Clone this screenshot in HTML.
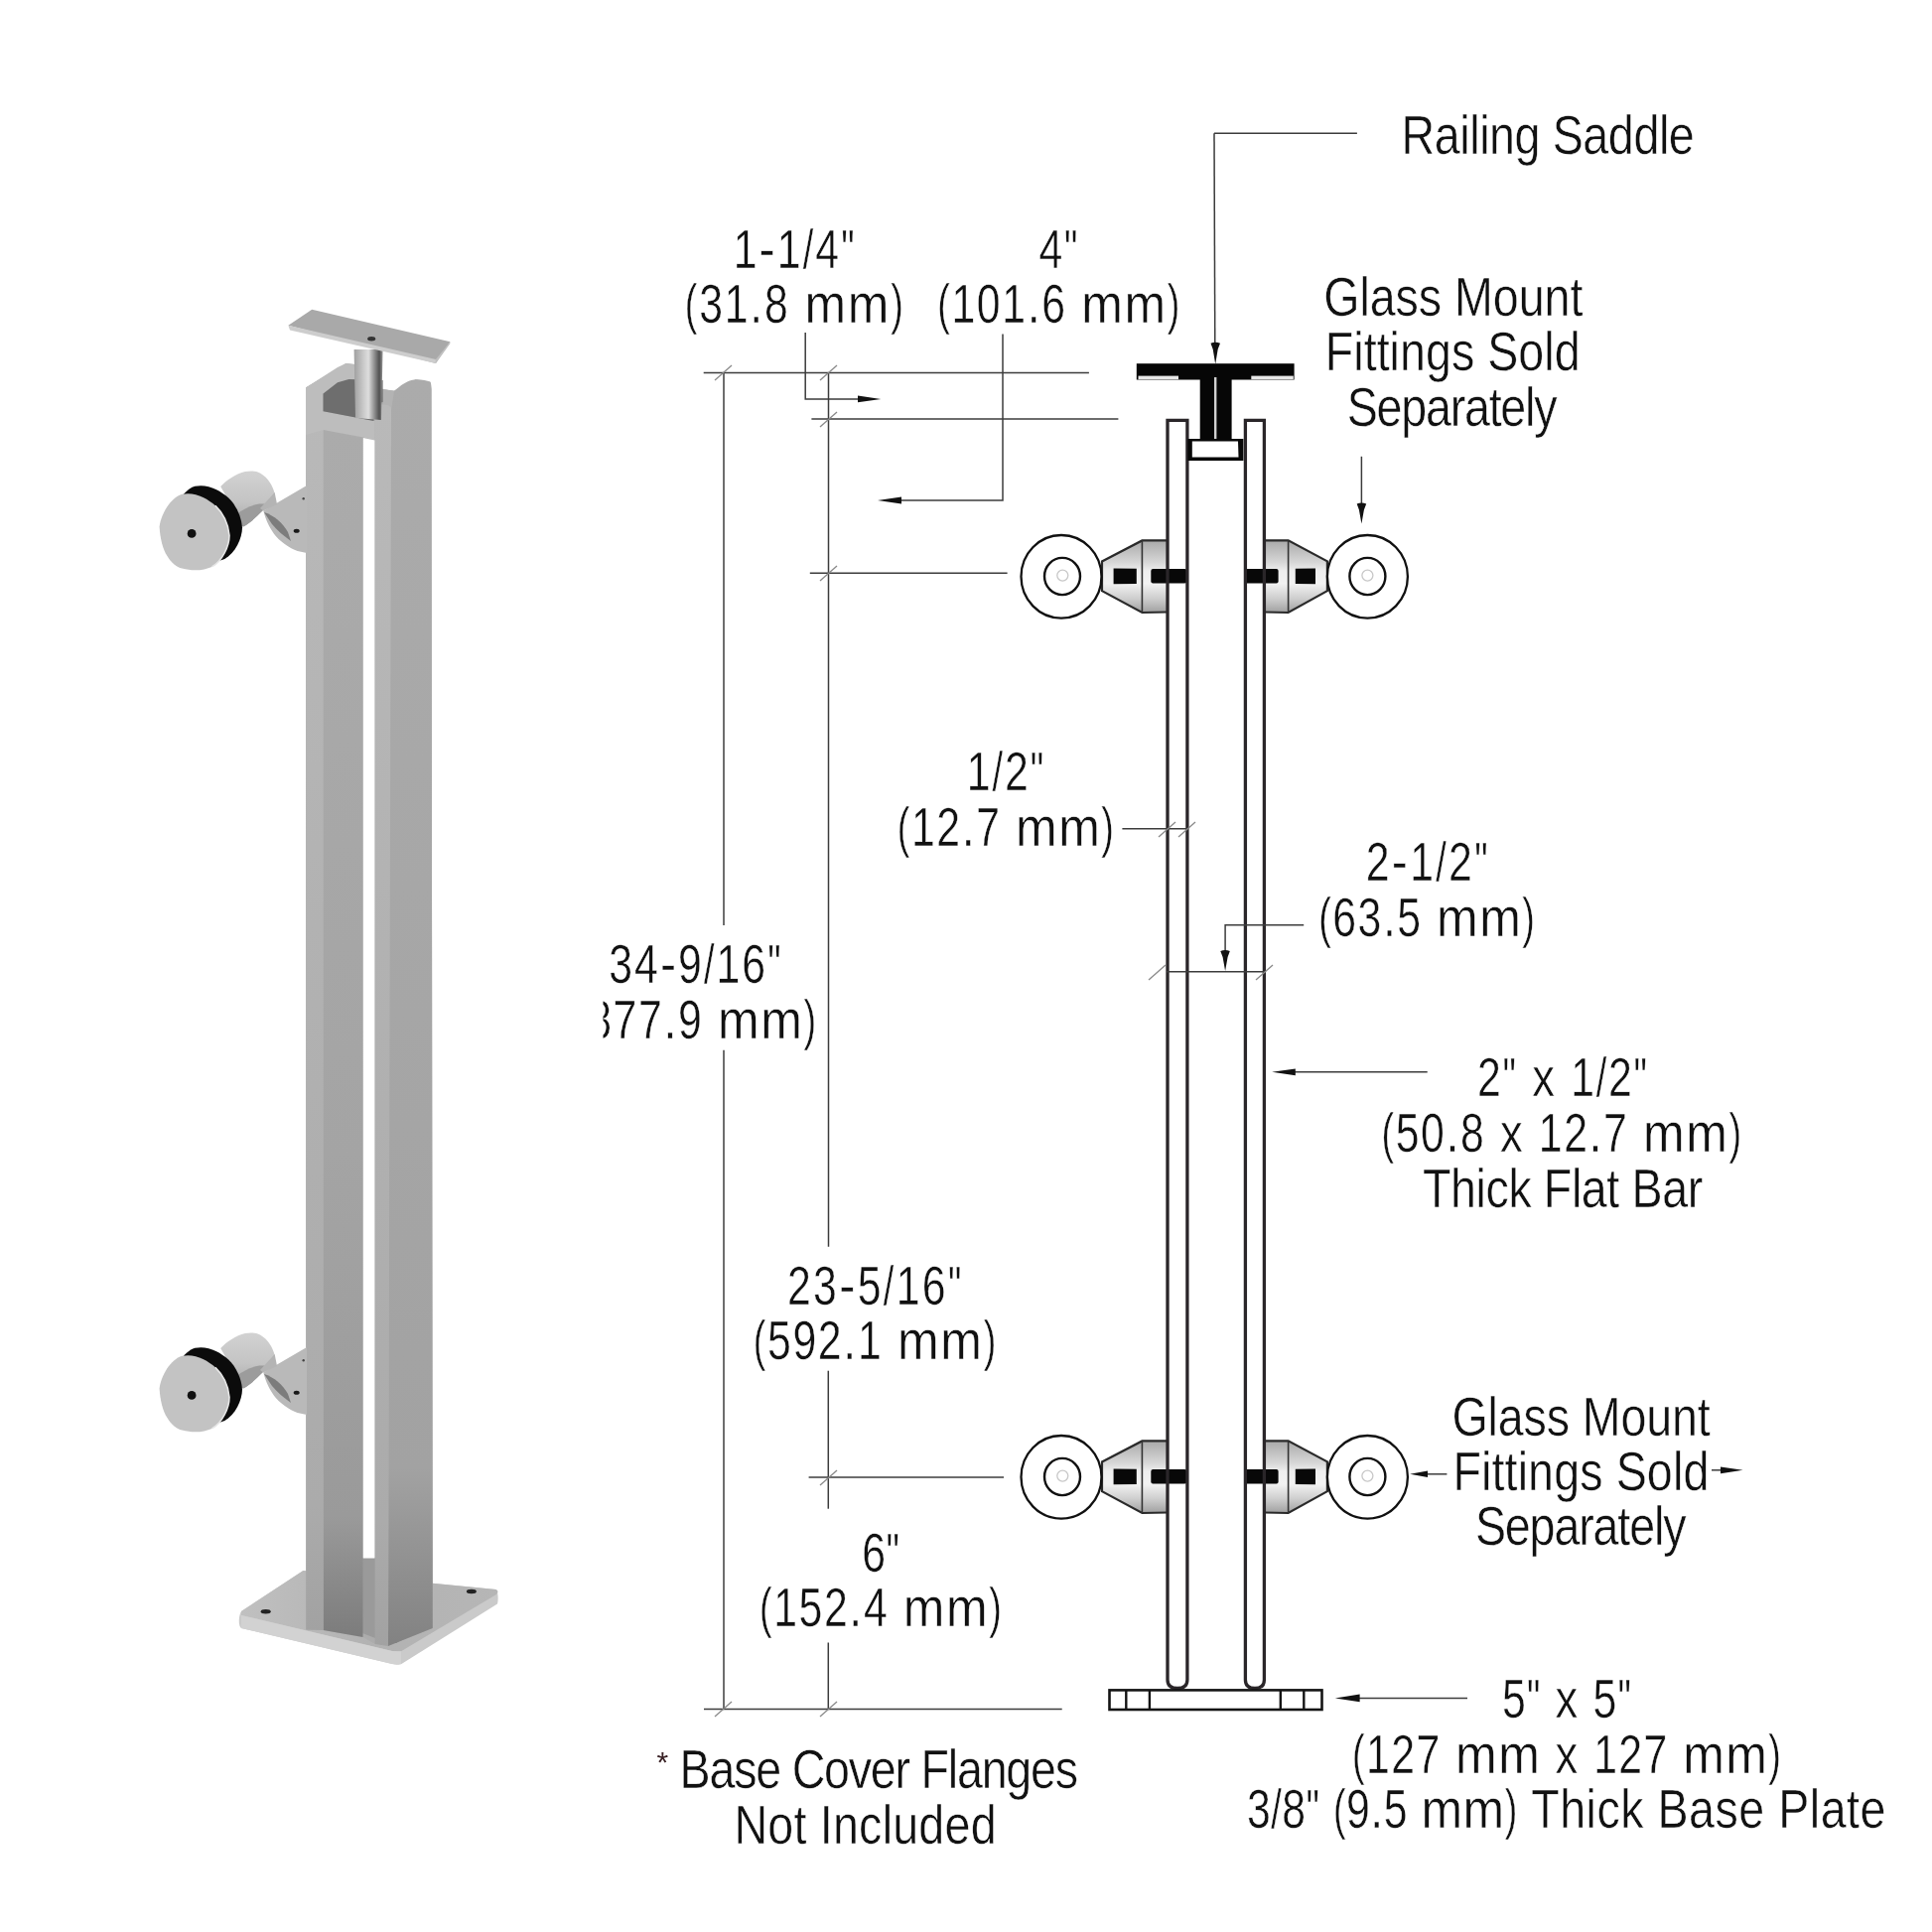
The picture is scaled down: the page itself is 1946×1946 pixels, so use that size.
<!DOCTYPE html>
<html><head><meta charset="utf-8"><style>
html,body{margin:0;padding:0;background:#fff;width:1946px;height:1946px;overflow:hidden}
svg{display:block}
</style></head><body>
<svg width="1946" height="1946" viewBox="0 0 1946 1946">
<rect width="1946" height="1946" fill="#fff"/>
<defs>
<linearGradient id="rf" x1="0" y1="0" x2="0" y2="1">
<stop offset="0" stop-color="#ababab"/><stop offset="0.5" stop-color="#a6a6a6"/><stop offset="0.86" stop-color="#a2a2a2"/><stop offset="1" stop-color="#828282"/>
</linearGradient>
<linearGradient id="mf" x1="0" y1="0" x2="0" y2="1">
<stop offset="0" stop-color="#ababab"/><stop offset="0.6" stop-color="#a4a4a4"/><stop offset="0.9" stop-color="#9a9a9a"/><stop offset="1" stop-color="#7c7c7c"/>
</linearGradient>
<linearGradient id="ls" x1="0" y1="0" x2="0" y2="1">
<stop offset="0" stop-color="#b9b9b9"/><stop offset="0.5" stop-color="#b1b1b1"/><stop offset="0.9" stop-color="#ababab"/><stop offset="1" stop-color="#a2a2a2"/>
</linearGradient>
<linearGradient id="sp" x1="0" y1="0" x2="1" y2="0">
<stop offset="0" stop-color="#a0a0a0"/><stop offset="0.3" stop-color="#c6c6c6"/><stop offset="0.5" stop-color="#dedede"/><stop offset="0.72" stop-color="#8a8a8a"/><stop offset="0.88" stop-color="#505050"/><stop offset="1" stop-color="#9a9a9a"/>
</linearGradient>
<linearGradient id="pl" x1="0" y1="0" x2="1" y2="0">
<stop offset="0" stop-color="#c0c0c0"/><stop offset="0.5" stop-color="#b2b2b2"/><stop offset="1" stop-color="#b6b6b6"/>
</linearGradient>
<linearGradient id="cy" x1="0" y1="0" x2="0" y2="1">
<stop offset="0" stop-color="#d2d2d2"/><stop offset="0.55" stop-color="#c4c4c4"/><stop offset="1" stop-color="#a8a8a8"/>
</linearGradient>
<g id="fitP">
<!-- bracket -->
<path d="M265.3,514.6 L309,489 L309,557 L299.6,555 C292,552 281,545 275.8,537.4 C271,531 268,524 265.3,514.6 Z" fill="#b9b9b9"/>
<path d="M266,516 C276,519 285,527 290,536 L293,545 C286,540 279,534 274,528 Z" fill="#7c7c7c"/>
<ellipse cx="298.7" cy="534.8" rx="3" ry="2" fill="#1a1a1a"/>
<circle cx="305.7" cy="502.2" r="1.2" fill="#444"/>
<!-- cylinder -->
<path d="M222.2,489.9 C228,484 238,477 246.8,475 C252,474 258,474 262,476.5 C270,481 275,490 276.7,497 C273,506 268,511 264.4,514.6 C259,520 252,527 245,530.4 Z" fill="url(#cy)"/>
<path d="M238,518 C248,511 258,506 268,508 L264.4,514.6 C259,520 252,527 245,530.4 L238,528 Z" fill="#9c9c9c"/>
<path d="M276.7,496 L279,508 L265.3,514.6 L262,512 Z" fill="#b4b4b4"/>
<!-- gasket -->
<path transform="translate(13 -8)" d="M160.6,530.4 C162,518 172,501 183.4,497.8 C196,495 209,502 216.9,509.3 C225,517 230,528 231,539.2 C231,550 224,565 213.4,570.9 C206,574 196,576 183.4,572.6 C172,569 162,556 160.6,530.4 Z" fill="#0b0b0b"/>
<!-- disc -->
<path d="M160.6,530.4 C162,518 172,501 183.4,497.8 C196,495 209,502 216.9,509.3 C225,517 230,528 231,539.2 C231,550 224,565 213.4,570.9 C206,574 196,576 183.4,572.6 C172,569 162,556 160.6,530.4 Z" fill="#c3c3c3"/>
<path d="M216.9,509.3 C225,517 230,528 231,539.2 C231,550 224,565 213.4,570.9" fill="none" stroke="#e6e6e6" stroke-width="1.6"/>
<circle cx="193.1" cy="537.4" r="4.4" fill="#111"/>
</g>
</defs>
<!-- base plate -->
<path d="M243,1623 L305.4,1582 L499.6,1600.9 C502,1603 502,1612 501,1615.4 L404,1676.2 C400,1677 398,1677 395,1676 L243,1640 C240,1638 240,1628 243,1623 Z" fill="#cacaca"/>
<path d="M243,1623 L305.4,1582 L499.6,1600.9 C502,1602 502,1604 500,1606 L404,1663.2 C400,1664 398,1664 395,1663 L243,1627 Z" fill="url(#pl)"/>
<path d="M243,1627 L395,1663 L404,1663.2 L404,1676 L395,1676 L243,1640 Z" fill="#d2d2d2"/>
<ellipse cx="267.7" cy="1623.3" rx="5" ry="2.2" fill="#222"/>
<ellipse cx="474.9" cy="1603" rx="5" ry="2.2" fill="#222"/>
<ellipse cx="396.7" cy="1652.3" rx="5" ry="2.4" fill="#333"/>
<!-- post body -->
<path d="M308,390.4 L348.5,366 L357,367 L385.6,392 L397,393.8 L418.6,382.2 L433.4,384.7 L434.5,392 L435.8,1639 L393,1654 L377.8,1656 L365.5,1649 L325.6,1642 L308.3,1641.4 Z" fill="#acacac"/>
<path d="M365,1569 L378,1569 L378,1650 L365,1645 Z" fill="#9a9a9a"/>
<path d="M393,393.8 L397,393.8 C404,388 410,383 418.6,382.2 C424,382 430,383 433.4,384.7 C434.5,386 434.5,390 434.5,392 L435.8,1640 L391,1658 Z" fill="url(#rf)"/>
<path d="M385.6,392.1 L397,393.8 L393,420 L385.6,420 Z" fill="#b3b3b3"/>
<path d="M377.6,1656 L377.6,410 C377.6,408 379,407 381,407 L390,408 C392,408.5 394,410 394,412 L391,1658 Z" fill="url(#ls)"/>
<path d="M325.6,433 L365.5,442 L365.5,1649 L325.6,1642 Z" fill="url(#mf)"/>
<path d="M308,390.4 L325.6,380 L325.6,1642 L308.3,1641.4 Z" fill="url(#ls)"/>
<!-- top frame -->
<path d="M308,390.4 L340,370 L348.5,366 L357,367 L357,383 L325.5,396.6 L325.5,414.2 L376.4,424 L377.6,424 L377.6,444 L366,440.5 L325.6,433 L308,438 Z" fill="#bdbdbd"/>
<path d="M325.5,396.6 L340,385.3 L351.4,381.9 L385.6,383 L385.6,405 L377.6,407 L376.4,424 L325.5,414.2 Z" fill="#6e6e6e"/>
<path d="M365.8,441 L377.4,443.5 L377.4,1569.6 L365.8,1569.6 Z" fill="#fff"/>
<!-- spindle -->
<path d="M356.6,352 L385.6,352 L384,423 L358,421 Z" fill="url(#sp)"/>
<!-- saddle -->
<path d="M290.4,327.8 L314.2,311.7 L453.4,344.3 L438.9,366.1 Z" fill="#a9a9a9"/>
<path d="M290.4,327.8 L438.9,362 L438.9,366.1 L292,332.4 Z" fill="#cdcdcd"/>
<path d="M438.9,362 L453.4,344.3 L453.4,346 L439,366 Z" fill="#c0c0c0"/>
<ellipse cx="374.2" cy="341.2" rx="4" ry="2.2" fill="#333"/>
<use href="#fitP"/>
<use href="#fitP" transform="translate(0 868)"/>

<defs>
<linearGradient id="cg" x1="0" y1="0" x2="0" y2="1">
<stop offset="0" stop-color="#a9a9a9"/><stop offset="0.3" stop-color="#d6d6d6"/><stop offset="0.42" stop-color="#eeeeee"/><stop offset="0.6" stop-color="#f2f2f2"/><stop offset="0.8" stop-color="#cfcfcf"/><stop offset="1" stop-color="#a0a0a0"/>
</linearGradient>
<g id="fitL">
<path d="M1110,565.4 L1150.4,544.4 L1176,544.4 L1176,616.5 L1150.4,617 L1110,595.2 Z" fill="url(#cg)"/>
<path d="M1176,544.4 L1150.4,544.4 L1110,565.4 L1110,595.2 L1150.4,617 L1176,616.5" fill="none" stroke="#2a2a2a" stroke-width="2.2"/>
<line x1="1150.4" y1="544.4" x2="1150.4" y2="617" stroke="#333" stroke-width="1.6"/>
<path d="M1121.6,572.4 L1144.8,572.8 L1144.8,588 L1121.6,588.2 Z" fill="#080808"/>
<rect x="1159.3" y="572.9" width="36" height="14.6" rx="2" fill="#080808"/>
<ellipse cx="1069" cy="580.8" rx="40.5" ry="41.8" fill="#fff" stroke="#111" stroke-width="2.3"/>
<ellipse cx="1070" cy="580.5" rx="18" ry="18.6" fill="#fff" stroke="#111" stroke-width="2.4"/>
<circle cx="1070.3" cy="579.6" r="5.5" fill="none" stroke="#c8c8c8" stroke-width="1.3"/>
</g>
<g id="fitR">
<path d="M1336.9,565.4 L1297.6,544.4 L1273.4,544.4 L1273.4,616.5 L1297.6,617 L1336.9,595.2 Z" fill="url(#cg)"/>
<path d="M1273.4,544.4 L1297.6,544.4 L1336.9,565.4 L1336.9,595.2 L1297.6,617 L1273.4,616.5" fill="none" stroke="#2a2a2a" stroke-width="2.2"/>
<line x1="1297.6" y1="544.4" x2="1297.6" y2="617" stroke="#333" stroke-width="1.6"/>
<path d="M1304.8,572.8 L1325,572.4 L1325,588.2 L1304.8,588 Z" fill="#080808"/>
<rect x="1253.6" y="572.9" width="34" height="14.6" rx="2" fill="#080808"/>
<ellipse cx="1377.4" cy="580.8" rx="40.5" ry="41.8" fill="#fff" stroke="#111" stroke-width="2.3"/>
<ellipse cx="1377.4" cy="580.5" rx="18" ry="18.6" fill="#fff" stroke="#111" stroke-width="2.4"/>
<circle cx="1377.4" cy="579.6" r="5.5" fill="none" stroke="#c8c8c8" stroke-width="1.3"/>
</g>
</defs>
<use href="#fitL"/>
<use href="#fitR"/>
<use href="#fitL" transform="translate(0 907)"/>
<use href="#fitR" transform="translate(0 907)"/>
<g fill="none" stroke-linecap="butt">
<!-- bars -->
<path d="M1176,1692 L1176,423.3 L1195.9,423.3 L1195.9,1692 Q1195.9,1700.5 1186,1700.5 Q1176,1700.5 1176,1692 Z" stroke="#2a2629" stroke-width="3.3"/>
<path d="M1254.4,1692 L1254.4,423.3 L1273.4,423.3 L1273.4,1692 Q1273.4,1700.5 1264,1700.5 Q1254.4,1700.5 1254.4,1692 Z" stroke="#2a2629" stroke-width="3.3"/>
<!-- base plate -->
<rect x="1117.5" y="1702.4" width="214" height="19.6" stroke="#141414" stroke-width="2.6"/>
<line x1="1134.3" y1="1702" x2="1134.3" y2="1722" stroke="#141414" stroke-width="2.4"/>
<line x1="1157.9" y1="1702" x2="1157.9" y2="1722" stroke="#141414" stroke-width="2.4"/>
<line x1="1289.8" y1="1702" x2="1289.8" y2="1722" stroke="#141414" stroke-width="2.4"/>
<line x1="1313.3" y1="1702" x2="1313.3" y2="1722" stroke="#141414" stroke-width="2.4"/>
</g>
<!-- saddle -->
<rect x="1144.8" y="366.2" width="158.8" height="16.3" fill="#060606"/>
<rect x="1146.5" y="378.6" width="40.5" height="3.6" fill="#e8e8e8"/>
<rect x="1260.3" y="378.6" width="42.5" height="3.6" fill="#e8e8e8"/>
<rect x="1208.7" y="382" width="31.9" height="61.5" fill="#060606"/>
<rect x="1223" y="380" width="2.4" height="63" fill="#d0d0d0"/>
<path d="M1196.4,442 L1252.4,442 L1252.4,464 L1196.4,464 Z" fill="#080808"/>
<path d="M1200.8,444.6 L1247,444.6 L1247.5,460.6 L1200.8,460.6 Z" fill="#fff"/>
<!-- fittings -->
<!-- dimension lines -->
<g stroke="#3c3c3c" stroke-width="1.5" fill="none">
<line x1="708.7" y1="375.5" x2="1096.9" y2="375.5"/>
<line x1="729" y1="375.5" x2="729" y2="932"/>
<line x1="729" y1="1057.7" x2="729" y2="1721.5"/>
<line x1="834.5" y1="375.5" x2="834.5" y2="1255.8"/>
<line x1="834.3" y1="1380.7" x2="834.3" y2="1519.7"/>
<line x1="834.3" y1="1654.5" x2="834.3" y2="1721.5"/>
<line x1="709" y1="1721.5" x2="1069.7" y2="1721.5"/>
<path d="M811.2,335 L811.2,401.9 L865,401.9"/>
<line x1="817.4" y1="422" x2="1126.4" y2="422"/>
<path d="M1010,336.6 L1010,504 L905,504"/>
<line x1="815.8" y1="577.3" x2="1014.6" y2="577.3"/>
<line x1="814.6" y1="1488" x2="1011" y2="1488"/>
<path d="M1223,134.2 L1366.9,134.2"/>
<path d="M1223,134.2 L1223.8,352"/>
<line x1="1371.4" y1="459.8" x2="1371.4" y2="515"/>
<line x1="1130.4" y1="834.7" x2="1196" y2="834.7"/>
<line x1="1175" y1="978.8" x2="1274" y2="978.8"/>
<path d="M1313.2,931.7 L1234.1,931.7 L1234.1,965"/>
<line x1="1300" y1="1079.8" x2="1437.7" y2="1079.8"/>
<line x1="1365" y1="1710.4" x2="1478" y2="1710.4"/>
<line x1="1432" y1="1484.8" x2="1457.4" y2="1484.8"/>
<line x1="1724" y1="1480.8" x2="1735" y2="1480.8"/>
</g>
<!-- ticks -->
<g stroke="#8a8a8a" stroke-width="1.3">
<line x1="720" y1="383" x2="737" y2="368"/>
<line x1="826" y1="383" x2="843" y2="368"/>
<line x1="826" y1="430" x2="843" y2="415"/>
<line x1="826" y1="585" x2="843" y2="570"/>
<line x1="826" y1="1496" x2="843" y2="1481"/>
<line x1="720" y1="1729" x2="737" y2="1714"/>
<line x1="826" y1="1729" x2="843" y2="1714"/>
<line x1="1167" y1="843" x2="1184" y2="828"/>
<line x1="1187" y1="843" x2="1204" y2="828"/>
<line x1="1157" y1="987" x2="1174" y2="972"/>
<line x1="1265" y1="987" x2="1282" y2="972"/>
</g>
<!-- arrowheads -->
<g fill="#111">
<path d="M864,398.5 L887.3,401.9 L864,405.3 Z"/>
<path d="M884,504 L908,500.6 L908,507.4 Z"/>
<path d="M1219.5,345.7 Q1224.2,343.7 1229.0,345.7 L1226.7,351.7 L1224.2,366.7 L1221.7,351.7 Z"/>
<path d="M1366.7,507.5 Q1371.4,505.5 1376.2,507.5 L1373.9,513.5 L1371.4,527.5 L1368.9,513.5 Z"/>
<path d="M1229.3,958.0 Q1234.1,956.0 1238.8,958.0 L1236.6,964.0 L1234.1,978.0 L1231.6,964.0 Z"/>
<path d="M1281.2,1079.8 L1304.8,1076.4 L1304.8,1083.2 Z"/>
<path d="M1344.8,1710.4 L1369.6,1706.5 L1369.6,1714.3 Z"/>
<path d="M1420.2,1484.8 L1438,1481.5 L1438,1488.1 Z"/>
<path d="M1755.5,1480.8 L1733,1477.4 L1733,1484.2 Z"/>
</g>

<g font-family="Liberation Sans, sans-serif" font-size="55.5" fill="#111" stroke="#fff" stroke-width="0.5" opacity="0.999">
<!-- Railing Saddle track=-0.41 -->
<text transform="translate(1411.48 155.2) scale(0.84 1)">R</text><text transform="translate(1444.73 155.2) scale(0.84 1)">a</text><text transform="translate(1470.25 155.2) scale(0.84 1)">i</text><text transform="translate(1480.20 155.2) scale(0.84 1)">l</text><text transform="translate(1490.14 155.2) scale(0.84 1)">i</text><text transform="translate(1500.09 155.2) scale(0.84 1)">n</text><text transform="translate(1525.60 155.2) scale(0.84 1)">g</text><text transform="translate(1563.66 155.2) scale(0.84 1)">S</text><text transform="translate(1594.35 155.2) scale(0.84 1)">a</text><text transform="translate(1619.86 155.2) scale(0.84 1)">d</text><text transform="translate(1645.38 155.2) scale(0.84 1)">d</text><text transform="translate(1670.90 155.2) scale(0.84 1)">l</text><text transform="translate(1680.84 155.2) scale(0.84 1)">e</text>
<!-- 1-1/4&quot; track=2.14 -->
<text transform="translate(738.64 269.8) scale(0.77 1)">1</text><text transform="translate(764.55 269.8) scale(0.87 1)">-</text><text transform="translate(782.77 269.8) scale(0.77 1)">1</text><text transform="translate(808.68 269.8) scale(0.68 1)">/</text><text transform="translate(821.30 269.8) scale(0.77 1)">4</text><text transform="translate(847.21 269.8) scale(0.68 1)">&quot;</text>
<!-- (31.8 mm) track=1.82 -->
<text transform="translate(689.76 325) scale(0.68 1)">(</text><text transform="translate(704.14 325) scale(0.77 1)">3</text><text transform="translate(729.72 325) scale(0.77 1)">1</text><text transform="translate(755.31 325) scale(0.84 1)">.</text><text transform="translate(770.07 325) scale(0.77 1)">8</text><text transform="translate(810.42 325) scale(0.9 1)">m</text><text transform="translate(853.85 325) scale(0.9 1)">m</text><text transform="translate(897.27 325) scale(0.68 1)">)</text>
<!-- 4&quot; track=1.82 -->
<text transform="translate(1046.42 269.8) scale(0.77 1)">4</text><text transform="translate(1072.01 269.8) scale(0.68 1)">&quot;</text>
<!-- (101.6 mm) track=1.65 -->
<text transform="translate(944.16 325) scale(0.68 1)">(</text><text transform="translate(958.38 325) scale(0.77 1)">1</text><text transform="translate(983.80 325) scale(0.77 1)">0</text><text transform="translate(1009.21 325) scale(0.77 1)">1</text><text transform="translate(1034.63 325) scale(0.84 1)">.</text><text transform="translate(1049.23 325) scale(0.77 1)">6</text><text transform="translate(1089.25 325) scale(0.9 1)">m</text><text transform="translate(1132.51 325) scale(0.9 1)">m</text><text transform="translate(1175.77 325) scale(0.68 1)">)</text>
<!-- Glass Mount track=-0.04 -->
<text transform="translate(1333.16 317.5) scale(0.84 1)">G</text><text transform="translate(1369.38 317.5) scale(0.84 1)">l</text><text transform="translate(1379.69 317.5) scale(0.84 1)">a</text><text transform="translate(1405.58 317.5) scale(0.84 1)">s</text><text transform="translate(1428.85 317.5) scale(0.84 1)">s</text><text transform="translate(1465.03 317.5) scale(0.84 1)">M</text><text transform="translate(1503.83 317.5) scale(0.84 1)">o</text><text transform="translate(1529.71 317.5) scale(0.84 1)">u</text><text transform="translate(1555.60 317.5) scale(0.84 1)">n</text><text transform="translate(1581.49 317.5) scale(0.84 1)">t</text>
<!-- Fittings Sold track=0.03 -->
<text transform="translate(1334.78 372.6) scale(0.84 1)">F</text><text transform="translate(1363.28 372.6) scale(0.84 1)">i</text><text transform="translate(1373.66 372.6) scale(0.84 1)">t</text><text transform="translate(1386.64 372.6) scale(0.84 1)">t</text><text transform="translate(1399.62 372.6) scale(0.84 1)">i</text><text transform="translate(1410.00 372.6) scale(0.84 1)">n</text><text transform="translate(1435.95 372.6) scale(0.84 1)">g</text><text transform="translate(1461.91 372.6) scale(0.84 1)">s</text><text transform="translate(1498.22 372.6) scale(0.84 1)">S</text><text transform="translate(1529.34 372.6) scale(0.84 1)">o</text><text transform="translate(1555.29 372.6) scale(0.84 1)">l</text><text transform="translate(1565.68 372.6) scale(0.84 1)">d</text>
<!-- Separately track=-1.23 -->
<text transform="translate(1356.68 429.3) scale(0.84 1)">S</text><text transform="translate(1386.55 429.3) scale(0.84 1)">e</text><text transform="translate(1411.25 429.3) scale(0.84 1)">p</text><text transform="translate(1435.94 429.3) scale(0.84 1)">a</text><text transform="translate(1460.64 429.3) scale(0.84 1)">r</text><text transform="translate(1474.94 429.3) scale(0.84 1)">a</text><text transform="translate(1499.63 429.3) scale(0.84 1)">t</text><text transform="translate(1511.36 429.3) scale(0.84 1)">e</text><text transform="translate(1536.05 429.3) scale(0.84 1)">l</text><text transform="translate(1545.18 429.3) scale(0.84 1)">y</text>
<!-- 1/2&quot; track=2.05 -->
<text transform="translate(973.64 795.8) scale(0.77 1)">1</text><text transform="translate(999.46 795.8) scale(0.68 1)">/</text><text transform="translate(1011.99 795.8) scale(0.77 1)">2</text><text transform="translate(1037.81 795.8) scale(0.68 1)">&quot;</text>
<!-- (12.7 mm) track=1.57 -->
<text transform="translate(903.86 851.6) scale(0.68 1)">(</text><text transform="translate(917.99 851.6) scale(0.77 1)">1</text><text transform="translate(943.32 851.6) scale(0.77 1)">2</text><text transform="translate(968.66 851.6) scale(0.84 1)">.</text><text transform="translate(983.17 851.6) scale(0.77 1)">7</text><text transform="translate(1023.02 851.6) scale(0.9 1)">m</text><text transform="translate(1066.20 851.6) scale(0.9 1)">m</text><text transform="translate(1109.37 851.6) scale(0.68 1)">)</text>
<!-- 2-1/2&quot; track=2.34 -->
<text transform="translate(1375.65 886.6) scale(0.77 1)">2</text><text transform="translate(1401.76 886.6) scale(0.87 1)">-</text><text transform="translate(1420.17 886.6) scale(0.77 1)">1</text><text transform="translate(1446.28 886.6) scale(0.68 1)">/</text><text transform="translate(1459.10 886.6) scale(0.77 1)">2</text><text transform="translate(1485.21 886.6) scale(0.68 1)">&quot;</text>
<!-- (63.5 mm) track=1.52 -->
<text transform="translate(1328.26 943.1) scale(0.68 1)">(</text><text transform="translate(1342.34 943.1) scale(0.77 1)">6</text><text transform="translate(1367.62 943.1) scale(0.77 1)">3</text><text transform="translate(1392.91 943.1) scale(0.84 1)">.</text><text transform="translate(1407.37 943.1) scale(0.77 1)">5</text><text transform="translate(1447.12 943.1) scale(0.9 1)">m</text><text transform="translate(1490.25 943.1) scale(0.9 1)">m</text><text transform="translate(1533.37 943.1) scale(0.68 1)">)</text>
<!-- 34-9/16&quot; track=2.09 -->
<text transform="translate(613.17 990.3) scale(0.77 1)">3</text><text transform="translate(639.03 990.3) scale(0.77 1)">4</text><text transform="translate(664.89 990.3) scale(0.87 1)">-</text><text transform="translate(683.06 990.3) scale(0.77 1)">9</text><text transform="translate(708.92 990.3) scale(0.68 1)">/</text><text transform="translate(721.49 990.3) scale(0.77 1)">1</text><text transform="translate(747.35 990.3) scale(0.77 1)">6</text><text transform="translate(773.21 990.3) scale(0.68 1)">&quot;</text>
<!-- (877.9 mm) track=1.65 -->
<text transform="translate(577.96 1045.6) scale(0.68 1)">(</text><text transform="translate(592.18 1045.6) scale(0.77 1)">8</text><text transform="translate(617.60 1045.6) scale(0.77 1)">7</text><text transform="translate(643.02 1045.6) scale(0.77 1)">7</text><text transform="translate(668.43 1045.6) scale(0.84 1)">.</text><text transform="translate(683.04 1045.6) scale(0.77 1)">9</text><text transform="translate(723.06 1045.6) scale(0.9 1)">m</text><text transform="translate(766.31 1045.6) scale(0.9 1)">m</text><text transform="translate(809.57 1045.6) scale(0.68 1)">)</text>
<!-- 2&quot; x 1/2&quot; track=1.71 -->
<text transform="translate(1487.95 1104.3) scale(0.77 1)">2</text><text transform="translate(1513.43 1104.3) scale(0.68 1)">&quot;</text><text transform="translate(1543.21 1104.3) scale(0.82 1)">x</text><text transform="translate(1582.34 1104.3) scale(0.77 1)">1</text><text transform="translate(1607.83 1104.3) scale(0.68 1)">/</text><text transform="translate(1620.03 1104.3) scale(0.77 1)">2</text><text transform="translate(1645.51 1104.3) scale(0.68 1)">&quot;</text>
<!-- (50.8 x 12.7 mm) track=1.61 -->
<text transform="translate(1391.46 1160.3) scale(0.68 1)">(</text><text transform="translate(1405.63 1160.3) scale(0.77 1)">5</text><text transform="translate(1431.01 1160.3) scale(0.77 1)">0</text><text transform="translate(1456.38 1160.3) scale(0.84 1)">.</text><text transform="translate(1470.94 1160.3) scale(0.77 1)">8</text><text transform="translate(1510.88 1160.3) scale(0.82 1)">x</text><text transform="translate(1549.80 1160.3) scale(0.77 1)">1</text><text transform="translate(1575.17 1160.3) scale(0.77 1)">2</text><text transform="translate(1600.55 1160.3) scale(0.84 1)">.</text><text transform="translate(1615.11 1160.3) scale(0.77 1)">7</text><text transform="translate(1655.04 1160.3) scale(0.9 1)">m</text><text transform="translate(1698.26 1160.3) scale(0.9 1)">m</text><text transform="translate(1741.47 1160.3) scale(0.68 1)">)</text>
<!-- Thick Flat Bar track=-0.41 -->
<text transform="translate(1432.95 1216.4) scale(0.84 1)">T</text><text transform="translate(1461.02 1216.4) scale(0.84 1)">h</text><text transform="translate(1486.54 1216.4) scale(0.84 1)">i</text><text transform="translate(1496.49 1216.4) scale(0.84 1)">c</text><text transform="translate(1519.39 1216.4) scale(0.84 1)">k</text><text transform="translate(1554.83 1216.4) scale(0.84 1)">F</text><text transform="translate(1582.90 1216.4) scale(0.84 1)">l</text><text transform="translate(1592.84 1216.4) scale(0.84 1)">a</text><text transform="translate(1618.36 1216.4) scale(0.84 1)">t</text><text transform="translate(1643.45 1216.4) scale(0.84 1)">B</text><text transform="translate(1674.13 1216.4) scale(0.84 1)">a</text><text transform="translate(1699.65 1216.4) scale(0.84 1)">r</text>
<!-- 23-5/16&quot; track=2.38 -->
<text transform="translate(792.95 1314.3) scale(0.77 1)">2</text><text transform="translate(819.10 1314.3) scale(0.77 1)">3</text><text transform="translate(845.24 1314.3) scale(0.87 1)">-</text><text transform="translate(863.70 1314.3) scale(0.77 1)">5</text><text transform="translate(889.85 1314.3) scale(0.68 1)">/</text><text transform="translate(902.71 1314.3) scale(0.77 1)">1</text><text transform="translate(928.86 1314.3) scale(0.77 1)">6</text><text transform="translate(955.01 1314.3) scale(0.68 1)">&quot;</text>
<!-- (592.1 mm) track=1.69 -->
<text transform="translate(758.66 1369.4) scale(0.68 1)">(</text><text transform="translate(772.92 1369.4) scale(0.77 1)">5</text><text transform="translate(798.38 1369.4) scale(0.77 1)">9</text><text transform="translate(823.85 1369.4) scale(0.77 1)">2</text><text transform="translate(849.31 1369.4) scale(0.84 1)">.</text><text transform="translate(863.96 1369.4) scale(0.77 1)">1</text><text transform="translate(904.07 1369.4) scale(0.9 1)">m</text><text transform="translate(947.37 1369.4) scale(0.9 1)">m</text><text transform="translate(990.67 1369.4) scale(0.68 1)">)</text>
<!-- 6&quot; track=0.61 -->
<text transform="translate(868.13 1582.9) scale(0.77 1)">6</text><text transform="translate(892.51 1582.9) scale(0.68 1)">&quot;</text>
<!-- (152.4 mm) track=1.61 -->
<text transform="translate(765.06 1638) scale(0.68 1)">(</text><text transform="translate(779.23 1638) scale(0.77 1)">1</text><text transform="translate(804.61 1638) scale(0.77 1)">5</text><text transform="translate(829.98 1638) scale(0.77 1)">2</text><text transform="translate(855.35 1638) scale(0.84 1)">.</text><text transform="translate(869.91 1638) scale(0.77 1)">4</text><text transform="translate(909.84 1638) scale(0.9 1)">m</text><text transform="translate(953.06 1638) scale(0.9 1)">m</text><text transform="translate(996.27 1638) scale(0.68 1)">)</text>
<!-- Base Cover Flanges track=-1.23 -->
<text transform="translate(684.58 1800.8) scale(0.84 1)">B</text><text transform="translate(714.44 1800.8) scale(0.84 1)">a</text><text transform="translate(739.14 1800.8) scale(0.84 1)">s</text><text transform="translate(761.23 1800.8) scale(0.84 1)">e</text><text transform="translate(797.65 1800.8) scale(0.84 1)">C</text><text transform="translate(830.09 1800.8) scale(0.84 1)">o</text><text transform="translate(854.79 1800.8) scale(0.84 1)">v</text><text transform="translate(876.87 1800.8) scale(0.84 1)">e</text><text transform="translate(901.57 1800.8) scale(0.84 1)">r</text><text transform="translate(927.59 1800.8) scale(0.84 1)">F</text><text transform="translate(954.84 1800.8) scale(0.84 1)">l</text><text transform="translate(963.97 1800.8) scale(0.84 1)">a</text><text transform="translate(988.67 1800.8) scale(0.84 1)">n</text><text transform="translate(1013.37 1800.8) scale(0.84 1)">g</text><text transform="translate(1038.07 1800.8) scale(0.84 1)">e</text><text transform="translate(1062.77 1800.8) scale(0.84 1)">s</text>
<!-- Not Included track=0.22 -->
<text transform="translate(739.38 1856.7) scale(0.84 1)">N</text><text transform="translate(773.27 1856.7) scale(0.84 1)">o</text><text transform="translate(799.42 1856.7) scale(0.84 1)">t</text><text transform="translate(825.77 1856.7) scale(0.84 1)">I</text><text transform="translate(838.95 1856.7) scale(0.84 1)">n</text><text transform="translate(865.10 1856.7) scale(0.84 1)">c</text><text transform="translate(888.64 1856.7) scale(0.84 1)">l</text><text transform="translate(899.22 1856.7) scale(0.84 1)">u</text><text transform="translate(925.37 1856.7) scale(0.84 1)">d</text><text transform="translate(951.52 1856.7) scale(0.84 1)">e</text><text transform="translate(977.68 1856.7) scale(0.84 1)">d</text>
<!-- Glass Mount track=-0.14 -->
<text transform="translate(1462.46 1445.5) scale(0.84 1)">G</text><text transform="translate(1498.58 1445.5) scale(0.84 1)">l</text><text transform="translate(1508.79 1445.5) scale(0.84 1)">a</text><text transform="translate(1534.58 1445.5) scale(0.84 1)">s</text><text transform="translate(1557.75 1445.5) scale(0.84 1)">s</text><text transform="translate(1593.73 1445.5) scale(0.84 1)">M</text><text transform="translate(1632.43 1445.5) scale(0.84 1)">o</text><text transform="translate(1658.21 1445.5) scale(0.84 1)">u</text><text transform="translate(1684.00 1445.5) scale(0.84 1)">n</text><text transform="translate(1709.79 1445.5) scale(0.84 1)">t</text>
<!-- Fittings Sold track=0.11 -->
<text transform="translate(1463.48 1501) scale(0.84 1)">F</text><text transform="translate(1492.06 1501) scale(0.84 1)">i</text><text transform="translate(1502.53 1501) scale(0.84 1)">t</text><text transform="translate(1515.59 1501) scale(0.84 1)">t</text><text transform="translate(1528.65 1501) scale(0.84 1)">i</text><text transform="translate(1539.12 1501) scale(0.84 1)">n</text><text transform="translate(1565.15 1501) scale(0.84 1)">g</text><text transform="translate(1591.19 1501) scale(0.84 1)">s</text><text transform="translate(1627.67 1501) scale(0.84 1)">S</text><text transform="translate(1658.87 1501) scale(0.84 1)">o</text><text transform="translate(1684.91 1501) scale(0.84 1)">l</text><text transform="translate(1695.38 1501) scale(0.84 1)">d</text>
<!-- Separately track=-1.14 -->
<text transform="translate(1485.88 1555.7) scale(0.84 1)">S</text><text transform="translate(1515.84 1555.7) scale(0.84 1)">e</text><text transform="translate(1540.62 1555.7) scale(0.84 1)">p</text><text transform="translate(1565.41 1555.7) scale(0.84 1)">a</text><text transform="translate(1590.20 1555.7) scale(0.84 1)">r</text><text transform="translate(1604.58 1555.7) scale(0.84 1)">a</text><text transform="translate(1629.37 1555.7) scale(0.84 1)">t</text><text transform="translate(1641.18 1555.7) scale(0.84 1)">e</text><text transform="translate(1665.96 1555.7) scale(0.84 1)">l</text><text transform="translate(1675.18 1555.7) scale(0.84 1)">y</text>
<!-- 5&quot; x 5&quot; track=1.14 -->
<text transform="translate(1512.99 1729.5) scale(0.77 1)">5</text><text transform="translate(1537.89 1729.5) scale(0.68 1)">&quot;</text><text transform="translate(1566.52 1729.5) scale(0.82 1)">x</text><text transform="translate(1604.50 1729.5) scale(0.77 1)">5</text><text transform="translate(1629.41 1729.5) scale(0.68 1)">&quot;</text>
<!-- (127 mm x 127 mm) track=1.44 -->
<text transform="translate(1362.06 1785.6) scale(0.68 1)">(</text><text transform="translate(1376.07 1785.6) scale(0.77 1)">1</text><text transform="translate(1401.27 1785.6) scale(0.77 1)">2</text><text transform="translate(1426.48 1785.6) scale(0.77 1)">7</text><text transform="translate(1466.08 1785.6) scale(0.9 1)">m</text><text transform="translate(1509.13 1785.6) scale(0.9 1)">m</text><text transform="translate(1566.57 1785.6) scale(0.82 1)">x</text><text transform="translate(1605.16 1785.6) scale(0.77 1)">1</text><text transform="translate(1630.37 1785.6) scale(0.77 1)">2</text><text transform="translate(1655.57 1785.6) scale(0.77 1)">7</text><text transform="translate(1695.17 1785.6) scale(0.9 1)">m</text><text transform="translate(1738.22 1785.6) scale(0.9 1)">m</text><text transform="translate(1781.27 1785.6) scale(0.68 1)">)</text>
<!-- 3/8&quot; (9.5 mm) Thick Base Plate track=0.50 -->
<text transform="translate(1256.07 1841.4) scale(0.77 1)">3</text><text transform="translate(1280.34 1841.4) scale(0.68 1)">/</text><text transform="translate(1291.32 1841.4) scale(0.77 1)">8</text><text transform="translate(1315.59 1841.4) scale(0.68 1)">&quot;</text><text transform="translate(1342.94 1841.4) scale(0.68 1)">(</text><text transform="translate(1356.00 1841.4) scale(0.77 1)">9</text><text transform="translate(1380.27 1841.4) scale(0.84 1)">.</text><text transform="translate(1393.72 1841.4) scale(0.77 1)">5</text><text transform="translate(1431.44 1841.4) scale(0.9 1)">m</text><text transform="translate(1473.55 1841.4) scale(0.9 1)">m</text><text transform="translate(1515.66 1841.4) scale(0.68 1)">)</text><text transform="translate(1542.17 1841.4) scale(0.84 1)">T</text><text transform="translate(1571.15 1841.4) scale(0.84 1)">h</text><text transform="translate(1597.58 1841.4) scale(0.84 1)">i</text><text transform="translate(1608.43 1841.4) scale(0.84 1)">c</text><text transform="translate(1632.24 1841.4) scale(0.84 1)">k</text><text transform="translate(1669.50 1841.4) scale(0.84 1)">B</text><text transform="translate(1701.10 1841.4) scale(0.84 1)">a</text><text transform="translate(1727.53 1841.4) scale(0.84 1)">s</text><text transform="translate(1751.34 1841.4) scale(0.84 1)">e</text><text transform="translate(1791.21 1841.4) scale(0.84 1)">P</text><text transform="translate(1822.81 1841.4) scale(0.84 1)">l</text><text transform="translate(1833.66 1841.4) scale(0.84 1)">a</text><text transform="translate(1860.09 1841.4) scale(0.84 1)">t</text><text transform="translate(1873.54 1841.4) scale(0.84 1)">e</text>
</g>
<rect x="560" y="995" width="47.5" height="70" fill="#fff"/>
<text x="661.5" y="1785" font-family="Liberation Sans, sans-serif" font-size="30" fill="#3a2226">*</text>
</svg>
</body></html>
